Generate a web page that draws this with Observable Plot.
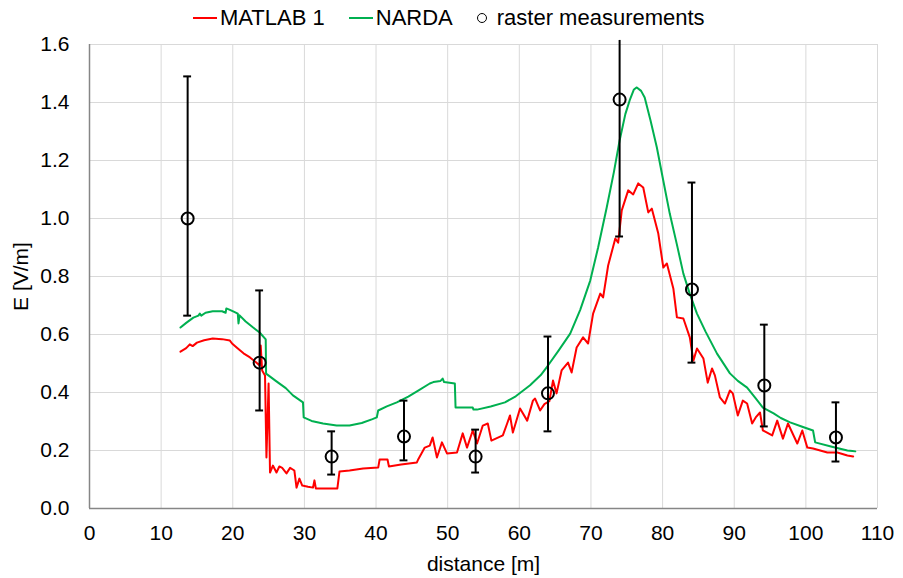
<!DOCTYPE html>
<html>
<head>
<meta charset="utf-8">
<script src="https://cdn.jsdelivr.net/npm/d3@7"></script>
<script src="https://cdn.jsdelivr.net/npm/@observablehq/plot@0.6"></script>
<style>
  html, body { margin: 0; padding: 0; background: #fff; }
  body { width: 903px; height: 578px; overflow: hidden; font-family: "Liberation Sans", Arial, sans-serif; }
  #legend { height: 36px; display: flex; align-items: center; padding-left: 193px; font-size: 22px; color: #000; box-sizing: border-box; }
  .sw { display: inline-block; width: 24px; height: 2px; margin-right: 3px; }
  .item { display: flex; align-items: center; margin-right: 24px; }
  .circ { display: inline-block; width: 8px; height: 8px; border: 1.6px solid #000; border-radius: 50%; margin-right: 10px; }
</style>
</head>
<body>
<div id="legend">
  <span class="item"><span class="sw" style="background:#ff0000"></span>MATLAB 1</span>
  <span class="item"><span class="sw" style="background:#00b050"></span>NARDA</span>
  <span class="item"><span class="circ"></span>raster measurements</span>
</div>
<div id="chart"></div>
<script>
// Tick values
const xTicks = [0, 10, 20, 30, 40, 50, 60, 70, 80, 90, 100, 110];
const yTicks = [0, 0.2, 0.4, 0.6, 0.8, 1.0, 1.2, 1.4, 1.6];

// MATLAB 1 series (red)
const matlabX = [12.7, 13.5, 14.0, 14.4, 15.0, 16.0, 17.2, 18.5, 19.6, 19.9, 20.5, 21.5, 22.4, 23.2, 23.75, 23.9, 24.1, 24.5, 24.7, 25.0, 25.2, 25.6, 26.1, 26.5, 26.9, 27.5, 28.0, 28.6, 28.9, 29.3, 29.7, 30.5, 31.2, 31.4, 31.6, 33.5, 34.6, 34.9, 36.3, 38.2, 40.3, 40.5, 41.6, 41.8, 43.5, 45.7, 45.9, 46.8, 47.5, 47.9, 48.5, 49.2, 49.9, 51.3, 52.1, 52.7, 53.5, 54.1, 54.9, 55.6, 56.1, 57.7, 58.3, 58.7, 59.1, 60.1, 61.1, 61.9, 62.2, 62.9, 63.5, 64.2, 64.7, 65.2, 65.9, 66.8, 67.3, 68.0, 68.9, 69.6, 70.3, 71.3, 71.7, 72.4, 73.4, 73.8, 74.3, 75.2, 75.9, 76.6, 77.3, 78.0, 78.5, 79.4, 80.1, 80.6, 81.5, 82.0, 82.9, 83.8, 84.3, 84.8, 85.7, 86.3, 86.9, 87.3, 88.0, 88.7, 89.4, 89.8, 90.5, 91.2, 91.8, 92.5, 93.0, 93.6, 94.0, 95.3, 96.0, 96.8, 97.5, 98.8, 99.5, 100.2, 101.0, 103.0, 104.4, 105.8, 106.6];
const matlabY = [0.541, 0.553, 0.566, 0.560, 0.572, 0.580, 0.586, 0.584, 0.579, 0.569, 0.556, 0.535, 0.521, 0.505, 0.493, 0.562, 0.476, 0.459, 0.176, 0.431, 0.124, 0.148, 0.124, 0.145, 0.140, 0.121, 0.140, 0.131, 0.072, 0.103, 0.079, 0.075, 0.072, 0.097, 0.069, 0.069, 0.069, 0.128, 0.131, 0.138, 0.141, 0.169, 0.169, 0.145, 0.152, 0.159, 0.170, 0.210, 0.217, 0.245, 0.176, 0.228, 0.190, 0.193, 0.259, 0.210, 0.269, 0.224, 0.286, 0.293, 0.234, 0.252, 0.293, 0.321, 0.262, 0.345, 0.303, 0.372, 0.379, 0.338, 0.360, 0.370, 0.441, 0.397, 0.476, 0.503, 0.469, 0.555, 0.590, 0.569, 0.672, 0.741, 0.728, 0.838, 0.931, 0.917, 1.028, 1.097, 1.083, 1.121, 1.107, 1.021, 1.034, 0.948, 0.831, 0.845, 0.759, 0.659, 0.655, 0.590, 0.510, 0.552, 0.517, 0.434, 0.483, 0.459, 0.383, 0.362, 0.407, 0.397, 0.321, 0.372, 0.362, 0.293, 0.314, 0.331, 0.269, 0.252, 0.303, 0.241, 0.293, 0.224, 0.269, 0.210, 0.207, 0.193, 0.193, 0.183, 0.179];

// NARDA series (green)
const nardaX = [12.7, 13.5, 14.5, 15.2, 15.4, 15.6, 16.2, 17.2, 18.5, 19.0, 19.1, 19.6, 20.2, 20.7, 20.8, 20.95, 21.8, 22.8, 23.75, 24.6, 24.65, 26.0, 27.4, 28.4, 29.8, 29.9, 31.0, 32.6, 34.5, 36.3, 38.0, 39.5, 40.1, 40.3, 41.5, 42.9, 44.5, 46.0, 47.5, 48.0, 49.0, 49.3, 49.5, 51.0, 51.1, 53.5, 53.6, 54.1, 56.0, 58.0, 59.5, 61.5, 63.0, 64.0, 65.5, 67.1, 68.5, 69.9, 71.0, 72.2, 73.2, 74.0, 74.8, 75.4, 76.0, 76.4, 77.0, 77.5, 78.3, 79.2, 80.1, 81.0, 82.0, 82.9, 83.8, 84.8, 86.0, 87.6, 89.4, 90.5, 91.8, 93.0, 94.0, 95.5, 96.5, 97.8, 99.5, 101.0, 101.3, 103.5, 105.8, 106.5, 106.9];
const nardaY = [0.624, 0.640, 0.658, 0.665, 0.672, 0.665, 0.675, 0.680, 0.680, 0.675, 0.690, 0.685, 0.678, 0.672, 0.638, 0.666, 0.645, 0.625, 0.607, 0.583, 0.465, 0.440, 0.415, 0.390, 0.366, 0.314, 0.302, 0.293, 0.286, 0.286, 0.295, 0.308, 0.314, 0.338, 0.352, 0.366, 0.386, 0.408, 0.431, 0.436, 0.440, 0.448, 0.436, 0.431, 0.348, 0.348, 0.341, 0.341, 0.352, 0.366, 0.387, 0.425, 0.460, 0.493, 0.545, 0.603, 0.685, 0.786, 0.900, 1.038, 1.160, 1.269, 1.360, 1.407, 1.445, 1.452, 1.440, 1.417, 1.340, 1.245, 1.130, 1.017, 0.910, 0.810, 0.740, 0.672, 0.610, 0.534, 0.466, 0.440, 0.417, 0.380, 0.348, 0.328, 0.312, 0.297, 0.282, 0.269, 0.228, 0.214, 0.200, 0.198, 0.197];

// Raster measurements with error bars
const rasterX = [13.7, 23.75, 33.8, 43.9, 53.9, 64.0, 74.0, 84.1, 94.2, 104.2];
const rasterY = [1.000, 0.503, 0.179, 0.248, 0.179, 0.397, 1.410, 0.755, 0.424, 0.245];
const rasterLo = [0.665, 0.338, 0.117, 0.166, 0.124, 0.266, 0.938, 0.503, 0.283, 0.162];
const rasterHi = [1.490, 0.752, 0.266, 0.372, 0.272, 0.593, 1.614, 1.124, 0.634, 0.366];

const matlab = matlabX.map((x, i) => ({x, y: matlabY[i]}));
const narda = nardaX.map((x, i) => ({x, y: nardaY[i]}));
const raster = rasterX.map((x, i) => ({x, y: rasterY[i], lo: rasterLo[i], hi: rasterHi[i]}));

const chart = Plot.plot({
  width: 903,
  height: 542,
  marginTop: 8,
  marginBottom: 70,
  marginLeft: 89,
  marginRight: 26,
  style: {fontFamily: "'Liberation Sans', Arial, sans-serif", fontSize: "21px", color: "#000", background: "#fff", overflow: "visible"},
  x: {domain: [0, 110]},
  y: {domain: [0, 1.6]},
  marks: [
    Plot.gridX(xTicks, {stroke: "#d9d9d9", strokeOpacity: 1, strokeWidth: 1}),
    Plot.gridY(yTicks, {stroke: "#d9d9d9", strokeOpacity: 1, strokeWidth: 1}),
    Plot.ruleY([0], {stroke: "#868686", strokeWidth: 1.5}),
    Plot.ruleX([0], {stroke: "#868686", strokeWidth: 1.5}),
    Plot.axisX(xTicks, {tickSize: 0, tickPadding: 17, fontSize: 21, label: "distance [m]", labelAnchor: "center", labelArrow: "none", labelOffset: 62}),
    Plot.axisY(yTicks, {tickSize: 0, tickPadding: 20, fontSize: 21, tickFormat: d3.format(".1f"), label: "E [V/m]", labelAnchor: "center", labelArrow: "none", labelOffset: 76}),
    Plot.line(matlab, {x: "x", y: "y", stroke: "#ff0000", strokeWidth: 2}),
    Plot.line(narda, {x: "x", y: "y", stroke: "#00b050", strokeWidth: 2}),
    Plot.ruleX(raster, {x: "x", y1: "lo", y2: "hi", stroke: "#000", strokeWidth: 2}),
    Plot.ruleY(raster, {y: "lo", x1: d => d.x - 0.55, x2: d => d.x + 0.55, stroke: "#000", strokeWidth: 2}),
    Plot.ruleY(raster.filter(d => d.hi <= 1.6), {y: "hi", x1: d => d.x - 0.55, x2: d => d.x + 0.55, stroke: "#000", strokeWidth: 2}),
    Plot.dot(raster, {x: "x", y: "y", r: 6, stroke: "#000", strokeWidth: 2, fill: "none"})
  ]
});
document.getElementById("chart").appendChild(chart);
</script>
</body>
</html>
